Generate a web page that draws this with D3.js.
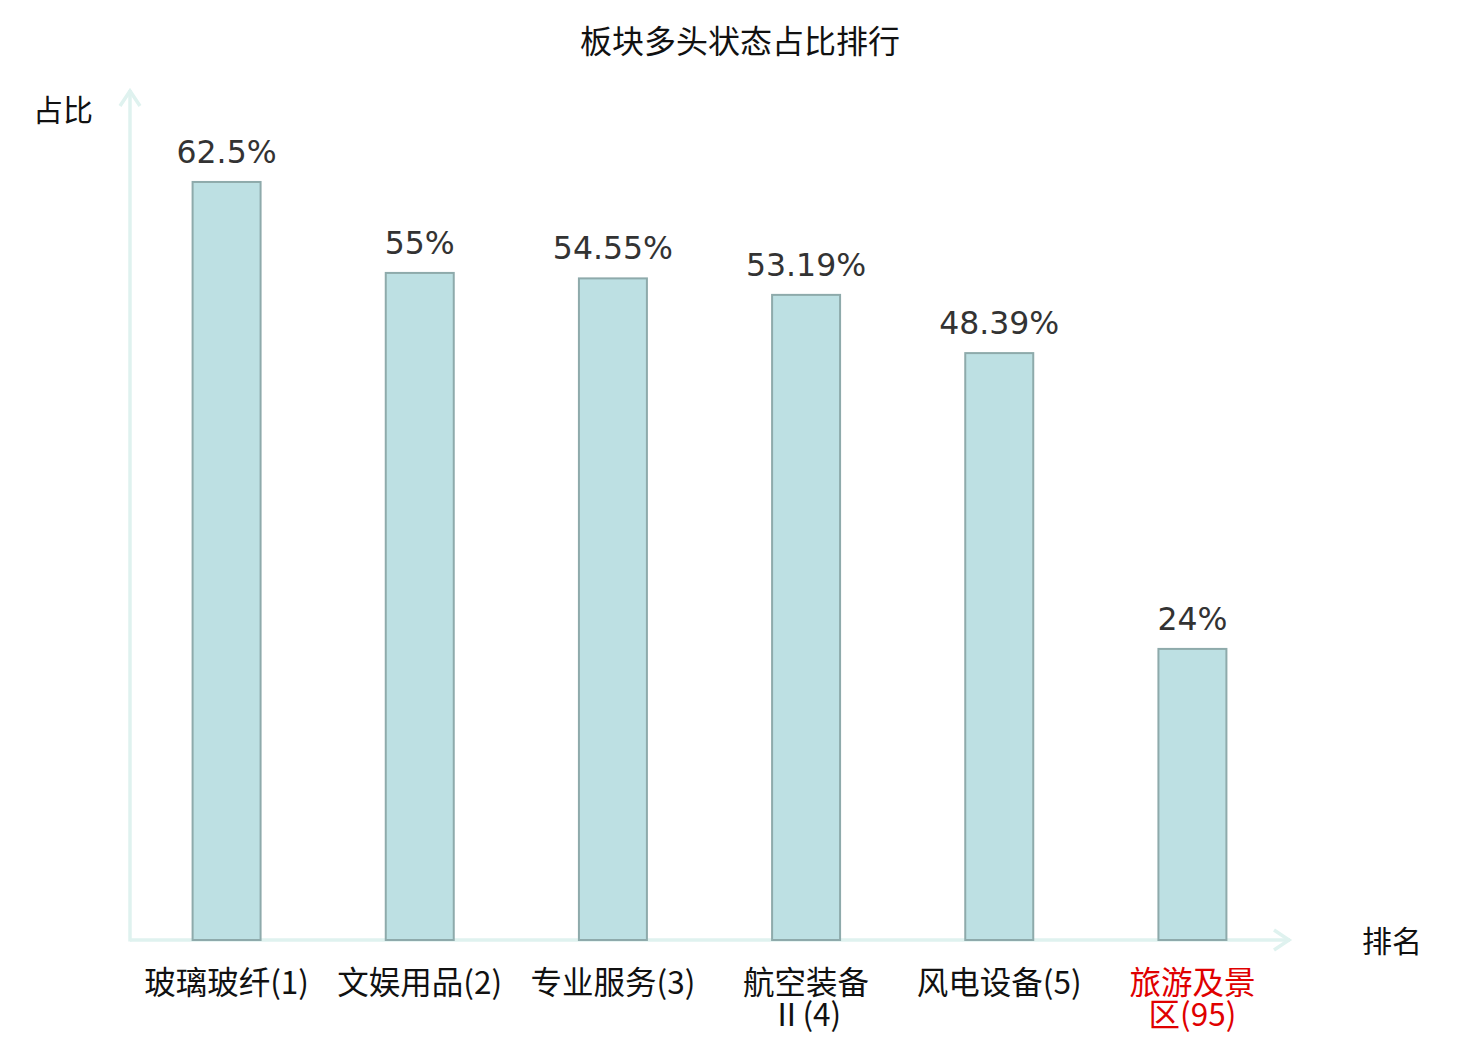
<!DOCTYPE html>
<html><head><meta charset="utf-8">
<script src="https://cdn.jsdelivr.net/npm/d3@7/dist/d3.min.js"></script>
<style>body{margin:0;background:#fff}svg{display:block}</style>
</head><body>
<svg id="c" width="1480" height="1040"></svg>
<script>
const categories = ["玻璃玻纤(1)", "文娱用品(2)", "专业服务(3)", "航空装备Ⅱ(4)", "风电设备(5)", "旅游及景区(95)"];
const values = [62.5, 55, 54.55, 53.19, 48.39, 24];
const valueLabels = ["62.5%", "55%", "54.55%", "53.19%", "48.39%", "24%"];
const highlighted = ["旅游及景区(95)"];
const title = "板块多头状态占比排行";
const yName = "占比";
const xName = "排名";

const svg = d3.select("#c");
const x0 = 130, x1 = 1289, yBase = 940, yTop = 91;
const x = d3.scaleBand().domain(categories).range([x0, x1]).paddingInner(0.648).paddingOuter(0.324);
const y = d3.scaleLinear().domain([0, 70]).range([yBase, yTop]);
const cjk = "'Noto Sans CJK SC','DejaVu Sans',sans-serif";
const latin = "'DejaVu Sans','Noto Sans CJK SC',sans-serif";
const axisColor = "#dff2ef";

svg.append("text").attr("x", 740).attr("y", 53).attr("text-anchor", "middle")
  .attr("font-family", cjk).attr("font-size", 32).attr("fill", "#111").text(title);

// axes
const g = svg.append("g");
g.append("line").attr("x1", x0).attr("x2", x0).attr("y1", yBase + 1.5).attr("y2", 90)
  .attr("stroke", axisColor).attr("stroke-width", 3.5);
g.append("path").attr("d", `M${x0-10},${106}L${x0},${91}L${x0+10},${106}`)
  .attr("fill", "none").attr("stroke", axisColor).attr("stroke-width", 3.5);
g.append("line").attr("x1", x0).attr("x2", 1290).attr("y1", yBase).attr("y2", yBase)
  .attr("stroke", axisColor).attr("stroke-width", 3.5);
g.append("path").attr("d", `M${1274},${930}L${1289},${yBase}L${1274},${950}`)
  .attr("fill", "none").attr("stroke", axisColor).attr("stroke-width", 3.5);

svg.append("text").attr("x", 63).attr("y", 121).attr("text-anchor", "middle")
  .attr("font-family", cjk).attr("font-size", 30).attr("fill", "#111").text(yName);
svg.append("text").attr("x", 1392).attr("y", 952).attr("text-anchor", "middle")
  .attr("font-family", cjk).attr("font-size", 30).attr("fill", "#111").text(xName);

// bars
svg.selectAll("rect.bar").data(values).join("rect").attr("class", "bar")
  .attr("x", (d, i) => x(categories[i]))
  .attr("width", x.bandwidth())
  .attr("y", d => y(d))
  .attr("height", d => yBase - y(d))
  .attr("fill", "#bde0e3").attr("stroke", "#8eaaab").attr("stroke-width", 2);

svg.selectAll("text.val").data(values).join("text").attr("class", "val")
  .attr("x", (d, i) => x(categories[i]) + x.bandwidth() / 2)
  .attr("y", d => y(d) - 19)
  .attr("text-anchor", "middle").attr("font-family", latin).attr("font-size", 31.5)
  .attr("fill", "#333").text((d, i) => valueLabels[i]);

// category labels, wrapped after 4 characters when too long
categories.forEach((c, i) => {
  const chars = Array.from(c);
  const lines = chars.length > 7 ? [chars.slice(0, 4).join(""), chars.slice(4).join("")] : [c];
  const cx = x(c) + x.bandwidth() / 2;
  const t = svg.append("text").attr("text-anchor", "middle")
    .attr("font-family", cjk).attr("font-size", 31.5)
    .attr("fill", highlighted.includes(c) ? "#e00000" : "#111");
  lines.forEach((ln, k) => {
    t.append("tspan").attr("x", cx).attr("y", 994 + k * 32).text(ln);
  });
});
</script>
</body></html>
